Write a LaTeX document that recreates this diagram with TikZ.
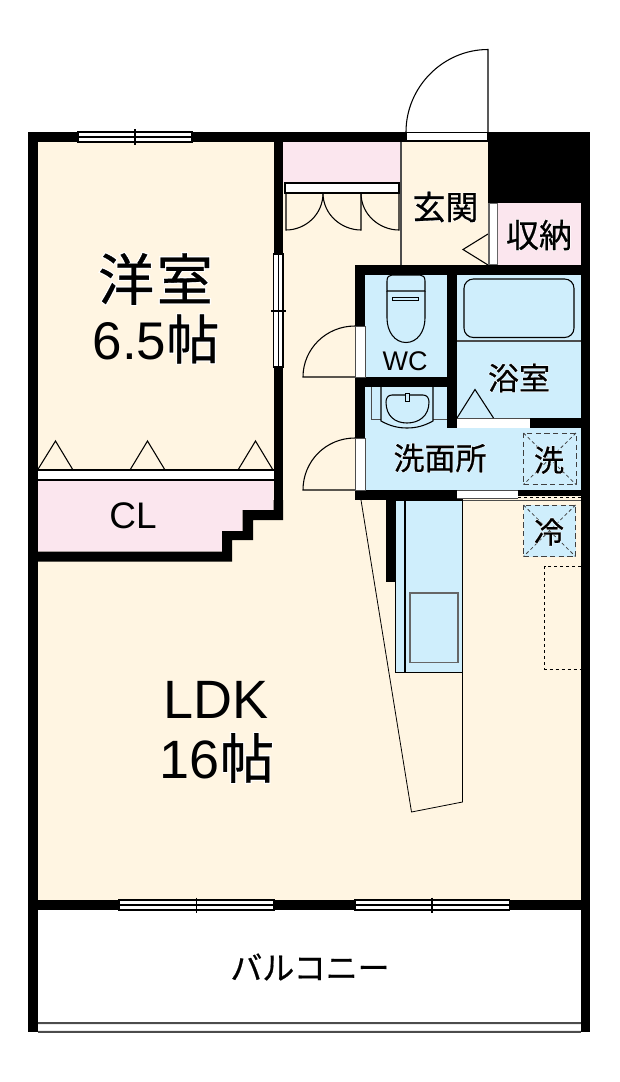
\documentclass[tikz,border=0pt]{standalone}
\usepackage{fontspec}
\setmainfont{Noto Sans CJK JP}
\newfontfamily\latinf{Liberation Sans}
\definecolor{cream}{HTML}{FFF5E2}
\definecolor{pinkr}{HTML}{FBE6EE}
\definecolor{bluer}{HTML}{CFEEFC}
\newcommand\halo[2][4]{\leavevmode\rlap{\color{white}\addfontfeature{FakeBold=#1}#2}\addfontfeature{FakeBold=0.6}#2}
\newcommand\fs[1]{\fontsize{\dimexpr#1pt*3/4\relax}{\dimexpr#1pt*3/4*115/100\relax}\selectfont}
\tikzset{
 wall/.style={fill=black,draw=none},
 ln/.style={draw=black,line width=0.8pt},
 gl/.style={draw=black!70,line width=0.8pt},
 win/.style={fill=white,draw=black,line width=0.8pt},
 dsh/.style={draw=black!75,line width=0.75pt,dash pattern=on 4pt off 2.5pt},
 dsd/.style={draw=black!75,line width=0.6pt,dash pattern=on 2.5pt off 2pt},
 lab/.style={inner sep=0pt,align=center,text=black},
}
\begin{document}
\begin{tikzpicture}[x=0.75pt,y=-0.75pt]
\useasboundingbox (0,0) rectangle (619,1082);
\fill[white] (0,0) rectangle (619,1082);
% floors
\fill[cream] (37,141) -- (581,141) -- (581,901) -- (37,901) -- cycle;
\fill[pinkr] (283,141) rectangle (401,183);
\fill[pinkr] (498,203) rectangle (581,265);
\fill[pinkr] (37.5,480) -- (273.5,480) -- (273.5,510) -- (242.5,510) -- (242.5,531) -- (222,531) -- (222,551.5) -- (37.5,551.5) -- cycle;
\fill[bluer] (365,275) rectangle (581,490);
% closet doors, entrance
\draw[win] (285,183) rectangle (399,193);
\draw[ln] (286,193) -- (286,230) .. controls (305,230) and (323,215) .. (323,193);
\draw[ln] (323,193) .. controls (323,215) and (342,230) .. (361,230) -- (361,193);
\draw[ln] (361,193) .. controls (361,215) and (380,230) .. (399,230) -- (399,193);
\draw[gl] (401,141) -- (401,265);
\draw[ln] (488,234) -- (463,249.5) -- (488,265);
\draw[ln] (406,132) .. controls (406,87) and (443,49.5) .. (488,49.5) -- (488,132);
\draw[win] (406,132.5) rectangle (488,141);
\draw[win,draw=black!60] (489,203) rectangle (497.5,265);
% Walls
\fill[wall] (27.5,132) rectangle (406,141.5);
\fill[wall] (488,132) rectangle (590,203);
\fill[wall] (27.5,132) rectangle (37.5,1032);
\fill[wall] (581,132) rectangle (590,1032);
\fill[wall] (273.5,132) rectangle (283,520);
\fill[wall] (283,520) -- (253,520) -- (253,540) -- (232,540) -- (232,561.5) -- (37,561.5) -- (37,551.5) -- (222,551.5) -- (222,531) -- (242.5,531) -- (242.5,510) -- (273.5,510) -- (273.5,500) -- (283,500) -- cycle;
\fill[wall] (27.5,900) rectangle (590,909.5);
\fill[wall] (355,265) rectangle (590,275);
\fill[wall] (355,265) rectangle (365,500);
\fill[wall] (355,377) rectangle (447,387);
\fill[wall] (447,275) rectangle (457,428);
\fill[wall] (457,418) rectangle (581,428);
\fill[wall] (355,490) rectangle (457,500);
\fill[wall] (518,490) rectangle (581,496);
\fill[wall] (386,500) rectangle (395.5,581.5);
% windows
\draw[win] (78,132) rectangle (192,142);
\draw[ln] (78,137) -- (192,137) (135,129) -- (135,145);
\draw[win] (273.5,254) rectangle (283,367);
\draw[ln] (278.3,254) -- (278.3,367) (271,311) -- (286,311);
\draw[win] (119,900) rectangle (274,910);
\draw[ln] (119,905) -- (274,905) (196.5,897.5) -- (196.5,912.5);
\draw[win] (355,900) rectangle (509.5,910);
\draw[ln] (355,905) -- (509.5,905) (432,897.5) -- (432,912.5);
% Sliding doors in the closet
\fill[white] (37.5,470) rectangle (273.5,480);
\draw[ln] (37.5,470) -- (273.5,470) (37.5,480) -- (273.5,480);
\draw[ln] (37.5,470) -- (55.5,441) -- (73,470);
\draw[ln] (130,470) -- (147.5,441) -- (165,470);
\draw[ln] (238,470) -- (255.5,441) -- (273,470);
% wet doors
\draw[ln,fill=cream] (355,326) .. controls (326,326) and (303,349) .. (303,377) -- (355,377);
\draw[ln,fill=cream] (355,438) .. controls (326,438) and (303,461) .. (303,490) -- (355,490);
\draw[gl,fill=white,line width=0.4pt] (355,326) rectangle (365,377);
\draw[gl,fill=white,line width=0.4pt] (355,438) rectangle (365,490);
% WC
\draw[ln] (387,291) -- (387,281) .. controls (387,277) and (389,275) .. (392,275) -- (420,275) .. controls (423,275) and (425,277) .. (425,281) -- (425,291) -- cycle;
\draw[ln] (387,291) -- (387,318) .. controls (387,332) and (395,342.5) .. (406,342.5) .. controls (417,342.5) and (425,332) .. (425,318) -- (425,291);
\draw[ln,line width=0.5pt] (392,297) rectangle (418,300);
% sink
\draw[gl,line width=0.5pt] (371.5,387) -- (371.5,419) -- (447,419);
\draw[ln,fill=bluer] (381,387) -- (381,421) .. controls (390,426) and (398,428) .. (407,428) .. controls (416,428) and (424,426) .. (433,421) -- (433,387);
\draw[ln] (392,395) -- (423,395) .. controls (427,395) and (429,398) .. (429,402) .. controls (429,416) and (419,423) .. (407,423) .. controls (395,423) and (386,416) .. (386,402) .. controls (386,398) and (388,395) .. (392,395) -- cycle;
\draw[ln,fill=bluer,line width=0.5pt] (405,393) rectangle (409,401);
% bath
\draw[gl] (457,341) -- (581,341);
\draw[ln,rounded corners=7pt] (464,279) rectangle (574,337.5);
\fill[white] (457,418) rectangle (530,428);
\draw[gl,line width=0.5pt] (457,418) -- (530,418);
\draw[ln] (457,418) -- (475,389.5) -- (493.5,418);
% laundry
\draw[dsh] (523.5,433) rectangle (576,484.5);
\draw[dsd] (523.5,433) -- (576,484.5) (576,433) -- (523.5,484.5);
% kitchen-side partition
\fill[white] (457,490) rectangle (518,498);
\draw[gl,line width=0.5pt] (457,490) -- (518,490);
\draw[gl,line width=0.5pt] (457,498) -- (518,498);
\draw[dsd,draw=black] (518,497.5) -- (581,497.5);
\draw[gl,line width=0.5pt] (457,500) -- (581,500);
% fridge
\draw[dsh,fill=bluer] (523.5,505) rectangle (575.5,556.5);
\draw[dsd] (523.5,505) -- (575.5,556.5) (575.5,505) -- (523.5,556.5);
% kitchen
\draw[ln,fill=bluer] (395.5,500) rectangle (462.5,672.5);
\draw[ln] (405,500) -- (405,672.5);
\draw[draw=black!60,line width=0.9pt] (410,593) rectangle (458,662.5);
\draw[ln,line width=0.6pt] (361,500) -- (411.5,812) -- (462.5,802) -- (462.5,672.5);
\draw[dsd,draw=black,line width=0.6pt] (581,566.5) -- (544.5,566.5) -- (544.5,669) -- (581,669);
% balcony rail
\fill[black!8] (37.5,1023) rectangle (581,1032);
\fill[white] (37.5,1025) rectangle (581,1030);
\draw[gl] (37.5,1023) -- (581,1023) (37.5,1032) -- (581,1032);
% labels
\node[lab] (washroom) at (155.5,279) {\fs{56}\halo[5]{洋\kern2pt 室}};
\node[lab] (washsize) at (156,339) {\fs{53}\halo[5]{{\latinf 6.5}帖}};
\node[lab] (cl) at (133,516) {\fs{37}\halo{{\latinf CL}}};
\node[lab] (ldk) at (216,700) {\fs{54}\halo[5]{{\latinf LDK}}};
\node[lab] (ldksize) at (217,758) {\fs{54}\halo[5]{{\latinf 16}帖}};
\node[lab] (genkan) at (445.5,207) {\fs{33}\halo{玄関}};
\node[lab] (storage) at (539,235) {\fs{33}\halo{収納}};
\node[lab] (wc) at (405,361) {\fs{27}\halo{{\latinf WC}}};
\node[lab] (bath) at (519,378) {\fs{31}\halo{浴室}};
\node[lab] (senmen) at (440,458) {\fs{31}\halo{洗面所}};
\node[lab] (sen) at (549,460) {\fs{30}\halo{洗}};
\node[lab] (rei) at (549,532) {\fs{30}\halo{冷}};
\node[lab] (balcony) at (310,967) {\fs{32}\halo[1]{バルコニー}};
\end{tikzpicture}
\end{document}
